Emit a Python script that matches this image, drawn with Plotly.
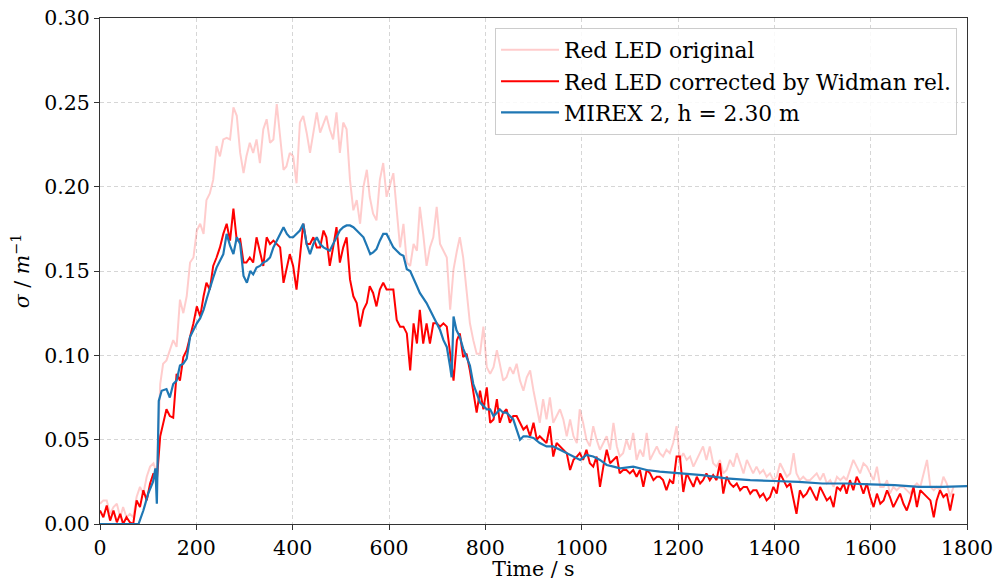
import plotly.graph_objects as go

# ---------------- data ----------------
# time grid segments (s)
T_A = [0,7,14,21,28,35,42,48,55,62,
       69,76,83,90,97,104,111,118,125,131,
       138,145,152,159,166,173,180,187,194,201,
       208,215,221,228,235,242,249,256,263,270,
       277,284,291,298,304,311,318,325,332,339,
       346,353,360,367,374,381,387,394,401,408,
       415,422,429,436,443,450,457,464,470,477,
       484,491,498,505,512,519,526,533,540,547,
       554,560,567,574,581,588,595]
T_B = [609,616,623,630,637,644,651,658,664,671,
       678,685,692,699,706,713,720,727,734,741,
       747,754,761,768,775,782,789,796,803,810,
       817,824,830,837,844,851,858,865,872,879,
       886,893,900,907,913,920,927,934,941,948,
       955,962,969,976,983,990,996,1003,1010,1017,
       1024,1031,1038,1045,1052,1059,1066,1073,1079,1086,
       1093,1100,1107,1114,1121,1128,1135,1142,1149,1156,
       1162,1169,1176,1183,1190,1197]
T_C = [1204,1211,1218,1225,1232,1239,1246,1252,1259,1266,
       1273,1280,1287,1294,1301,1308,1315,1322,1329,1336,
       1343,1350,1356,1363,1370,1377,1384,1391,1398,1405,
       1412,1419,1426,1433,1440,1446,1453,1460,1467,1474,
       1481,1488,1495,1502,1509,1516,1523,1530,1537,1544,
       1550,1557,1564,1571,1578,1585,1592,1599,1606,1613,
       1620,1627,1634,1640,1647,1654,1661,1668,1675,1682,
       1689,1696,1703,1710,1717,1724,1731,1737,1744,1751,
       1758,1765,1772]

# Red LED original
orig_A = [0.012,0.014,0.014,0.006,0.010,0.012,0.004,0.010,0.004,0.006,
          0.004,0.016,0.022,0.018,0.028,0.034,0.036,0.030,0.083,0.095,
          0.097,0.103,0.109,0.105,0.133,0.125,0.135,0.155,0.158,0.174,
          0.178,0.172,0.192,0.196,0.204,0.224,0.218,0.228,0.229,0.228,
          0.247,0.242,0.220,0.208,0.218,0.226,0.220,0.228,0.214,0.234,
          0.240,0.226,0.228,0.249,0.230,0.210,0.212,0.220,0.218,0.202,
          0.238,0.242,0.232,0.220,0.232,0.244,0.232,0.238,0.242,0.234,
          0.228,0.244,0.220,0.238,0.234,0.204,0.186,0.192,0.178,0.200,
          0.210,0.194,0.184,0.180,0.204,0.214,0.194]
orig_B = [0.208,0.186,0.164,0.178,0.155,0.153,0.166,0.162,0.188,0.172,
          0.153,0.164,0.170,0.188,0.166,0.162,0.158,0.127,0.151,0.162,
          0.170,0.158,0.139,0.119,0.109,0.101,0.101,0.117,0.093,0.089,
          0.093,0.103,0.095,0.085,0.087,0.093,0.089,0.095,0.085,0.079,
          0.087,0.091,0.079,0.068,0.060,0.074,0.062,0.075,0.060,0.064,
          0.068,0.062,0.052,0.062,0.052,0.048,0.068,0.060,0.050,0.046,
          0.058,0.050,0.044,0.048,0.052,0.044,0.060,0.046,0.040,0.042,
          0.050,0.044,0.054,0.038,0.044,0.040,0.054,0.038,0.042,0.046,
          0.042,0.040,0.044,0.042,0.048,0.058]
orig_C = [0.038,0.042,0.038,0.040,0.034,0.038,0.042,0.046,0.038,0.046,
          0.036,0.034,0.038,0.030,0.032,0.038,0.034,0.042,0.036,0.030,
          0.038,0.034,0.030,0.034,0.030,0.032,0.028,0.030,0.026,0.028,
          0.036,0.032,0.028,0.030,0.042,0.030,0.026,0.028,0.026,0.026,
          0.028,0.030,0.026,0.030,0.024,0.026,0.022,0.028,0.026,0.028,
          0.026,0.032,0.038,0.034,0.030,0.036,0.034,0.030,0.026,0.034,
          0.022,0.022,0.026,0.018,0.022,0.020,0.022,0.022,0.020,0.018,
          0.022,0.024,0.022,0.030,0.038,0.022,0.020,0.022,0.020,0.028,
          0.024,0.016,0.022]

# Red LED corrected by Widman rel.
corr_A = [0.008,0.004,0.011,0.002,0.008,0.001,0.006,0.000,0.004,0.001,
          0.000,0.014,0.010,0.020,0.014,0.024,0.030,0.026,0.052,0.060,
          0.068,0.064,0.063,0.089,0.085,0.099,0.103,0.111,0.119,0.129,
          0.123,0.135,0.143,0.139,0.153,0.158,0.164,0.172,0.178,0.168,
          0.187,0.168,0.169,0.155,0.155,0.158,0.155,0.170,0.162,0.153,
          0.170,0.166,0.168,0.166,0.164,0.143,0.151,0.160,0.153,0.139,
          0.158,0.178,0.166,0.166,0.170,0.164,0.164,0.174,0.170,0.153,
          0.164,0.176,0.155,0.164,0.170,0.145,0.135,0.131,0.117,0.127,
          0.131,0.141,0.137,0.129,0.139,0.143,0.139]
corr_B = [0.139,0.121,0.117,0.117,0.113,0.091,0.119,0.107,0.127,0.107,
          0.119,0.107,0.119,0.119,0.117,0.119,0.117,0.101,0.085,0.109,
          0.113,0.099,0.101,0.091,0.079,0.066,0.079,0.068,0.081,0.060,
          0.062,0.074,0.060,0.066,0.068,0.060,0.064,0.064,0.060,0.056,
          0.058,0.052,0.060,0.050,0.052,0.050,0.048,0.058,0.040,0.048,
          0.046,0.044,0.042,0.032,0.038,0.040,0.042,0.038,0.044,0.036,
          0.034,0.040,0.022,0.034,0.044,0.036,0.038,0.040,0.030,0.032,
          0.032,0.030,0.032,0.028,0.032,0.022,0.032,0.030,0.026,0.028,
          0.028,0.026,0.020,0.026,0.024,0.040]
corr_C = [0.040,0.019,0.030,0.026,0.022,0.028,0.024,0.026,0.030,0.026,
          0.029,0.026,0.036,0.018,0.028,0.024,0.022,0.024,0.020,0.022,
          0.022,0.018,0.020,0.020,0.016,0.018,0.014,0.016,0.022,0.018,
          0.030,0.026,0.022,0.024,0.014,0.006,0.020,0.016,0.018,0.022,
          0.018,0.014,0.022,0.018,0.014,0.016,0.010,0.022,0.020,0.024,
          0.018,0.026,0.020,0.028,0.024,0.018,0.024,0.016,0.010,0.018,
          0.012,0.014,0.020,0.016,0.010,0.014,0.018,0.012,0.008,0.014,
          0.022,0.010,0.020,0.018,0.016,0.014,0.004,0.014,0.020,0.016,
          0.018,0.008,0.018]

# MIREX 2, h = 2.30 m
mirex_t = [0,40,80,90,100,110,115,118,122,128,138,145,152,159,166,173,180,187,194,201,
           208,215,222,228,235,242,249,256,263,270,277,284,291,298,305,312,318,325,332,339,
           346,353,360,367,374,381,388,394,401,408,415,422,429,436,443,450,457,464,471,477,
           484,491,498,505,512,519,526,533,540,547,554,561,567,574,581,588,595,602,609,616,
           623,630,637,644,651,658,664,671,678,685,692,699,706,713,720,727,730,734,740,747,
           754,761,768,775,782,789,796,803,810,817,824,830,837,844,851,858,865,872,879,886,
           900,913,927,941,955,969,983,997,1010,1024,1038,1052,1066,1080,1107,1135,1162,1202,1250,1300,
           1350,1400,1450,1500,1550,1600,1650,1700,1750,1800]
mirex_v = [0.000,0.000,0.000,0.008,0.018,0.025,0.033,0.012,0.073,0.079,0.080,0.075,0.083,0.085,0.094,0.095,0.098,0.111,0.115,0.119,
           0.122,0.127,0.134,0.140,0.146,0.152,0.156,0.160,0.172,0.165,0.160,0.170,0.166,0.147,0.143,0.150,0.148,0.152,0.153,0.155,
           0.156,0.158,0.164,0.168,0.172,0.176,0.172,0.170,0.170,0.172,0.174,0.178,0.166,0.160,0.166,0.170,0.166,0.164,0.163,0.162,
           0.166,0.170,0.174,0.176,0.177,0.177,0.176,0.174,0.172,0.170,0.165,0.160,0.161,0.163,0.168,0.172,0.172,0.168,0.164,0.162,
           0.160,0.159,0.151,0.150,0.145,0.141,0.137,0.134,0.131,0.127,0.123,0.119,0.115,0.109,0.105,0.093,0.087,0.123,0.115,0.111,
           0.104,0.099,0.094,0.083,0.077,0.072,0.070,0.068,0.068,0.064,0.066,0.068,0.066,0.066,0.064,0.062,0.056,0.050,0.052,0.052,
           0.051,0.048,0.046,0.046,0.044,0.042,0.040,0.038,0.041,0.040,0.038,0.035,0.034,0.033,0.034,0.032,0.031,0.030,0.029,0.027,
           0.026,0.0255,0.025,0.024,0.024,0.0235,0.023,0.022,0.022,0.0225]

X_TICKS = [0,200,400,600,800,1000,1200,1400,1600,1800]
Y_TICKS = [0.00,0.05,0.10,0.15,0.20,0.25,0.30]

FONT = "DejaVu Serif"
FS = 20.5
LEG_FS = 21.8

fig = go.Figure()
fig.add_trace(go.Scatter(x=T_A + T_B + T_C, y=orig_A + orig_B + orig_C, mode="lines",
                         name="Red LED original", legendgroup="a",
                         line=dict(color="rgba(255,0,0,0.2)", width=2)))
fig.add_trace(go.Scatter(x=T_A + T_B + T_C, y=corr_A + corr_B + corr_C, mode="lines",
                         name="Red LED corrected by Widman rel.", legendgroup="b",
                         line=dict(color="#ff0000", width=2)))
fig.add_trace(go.Scatter(x=mirex_t, y=mirex_v, mode="lines",
                         name="MIREX 2, h = 2.30 m", legendgroup="c",
                         line=dict(color="#1f77b4", width=2.2)))

axis_common = dict(showline=True, linecolor="#333333", linewidth=1.2, mirror=True,
                   ticks="outside", ticklen=5, tickcolor="#333333", tickwidth=1.2,
                   showgrid=True, gridcolor="#d6d6d6", griddash="4px,3px", gridwidth=1,
                   zeroline=False, automargin=False,
                   tickfont=dict(family=FONT, size=FS, color="black"))

fig.update_xaxes(range=[0, 1800], tickvals=X_TICKS, ticktext=[str(v) for v in X_TICKS],
                 title=dict(text="Time / s", font=dict(family=FONT, size=FS, color="black"), standoff=0),
                 **axis_common)
fig.update_yaxes(range=[0, 0.30], tickvals=Y_TICKS, ticktext=[f"{v:.2f}" for v in Y_TICKS],
                 title=dict(text="<i>σ</i> / <i>m</i><sup>−1</sup>", font=dict(family=FONT, size=FS, color="black"), standoff=8),
                 **axis_common)

fig.update_layout(
    width=997, height=581,
    margin=dict(l=100, r=30, t=18, b=57, autoexpand=False),
    paper_bgcolor="white", plot_bgcolor="white",
    font=dict(family=FONT, size=FS, color="black"),
    showlegend=True,
    legend=dict(x=0.9885, y=0.98, xanchor="right", yanchor="top",
                bgcolor="rgba(255,255,255,0.85)", bordercolor="#cccccc", borderwidth=1,
                font=dict(family=FONT, size=LEG_FS, color="black"),
                traceorder="grouped", tracegroupgap=0, itemwidth=58),
)

fig.write_html("out.html", config={"displayModeBar": False},
               post_script="document.body.style.margin='0px';")
